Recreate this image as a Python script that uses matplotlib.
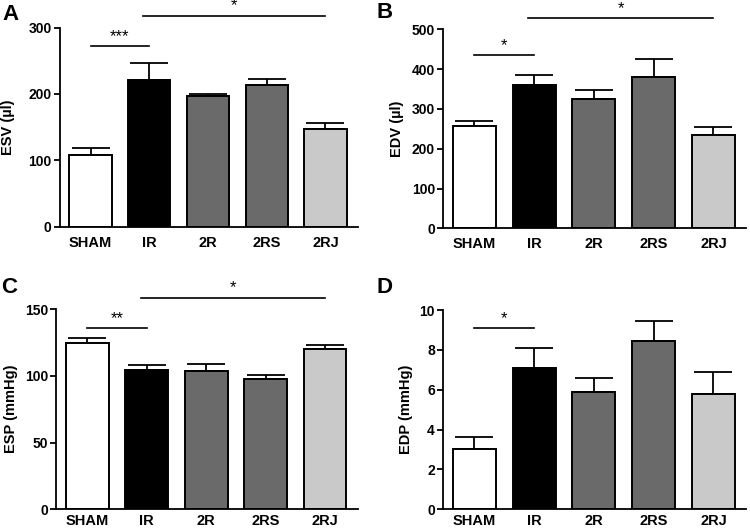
import numpy as np
import matplotlib
matplotlib.use('Agg')
import matplotlib.pyplot as plt

plt.rcParams['font.family'] = ['Liberation Sans', 'DejaVu Sans']
plt.rcParams['font.weight'] = 'bold'

''' --------- Data --------- '''
groups = ['SHAM', 'IR', '2R', '2RS', '2RJ']
esv_mean = [108, 221, 197, 214, 147]
esv_sem = [11, 25, 3.5, 9, 9]
edv_mean = [257, 361, 326, 379, 235]
edv_sem = [13, 24, 21, 46, 20]
esp_mean = [124.3, 104.3, 103.5, 97.5, 119.8]
esp_sem = [3.7, 3.7, 5.3, 3.0, 3.2]
edp_mean = [3.0, 7.1, 5.9, 8.45, 5.77]
edp_sem = [0.64, 1.0, 0.7, 1.0, 1.13]

bar_colors = ['white', 'black', '#6a6a6a', '#6a6a6a', '#c9c9c9']

''' --------- Panels --------- '''
panels = [
    # letter, mean, sem, ylabel, ymax, step, axes rect, brackets,
    # ylabel x (axes frac), xtick pad, letter position (px)
    ('A', esv_mean, esv_sem, 'ESV (µl)', 300, 100,
     [0.080, 0.573, 0.397, 0.375],
     [(0, 1, 272, '***'), (0.9, 4, 318, '*')], -0.1745, 6.5, (2.5, 20)),
    ('B', edv_mean, edv_sem, 'EDV (µl)', 500, 100,
     [0.591, 0.570, 0.404, 0.375],
     [(0, 1, 435, '*'), (0.9, 4, 528, '*')], -0.1536, 6.5, (376.5, 17.5)),
    ('C', esp_mean, esp_sem, 'ESP (mmHg)', 150, 50,
     [0.075, 0.041, 0.402, 0.377],
     [(0, 1, 136, '**'), (0.9, 4, 158.5, '*')], -0.1507, 3.5, (1, 293)),
    ('D', edp_mean, edp_sem, 'EDP (mmHg)', 10, 2,
     [0.591, 0.041, 0.404, 0.375],
     [(0, 1, 9.08, '*')], -0.123, 3.5, (376.5, 293)),
]

W, H = 750, 531
fig = plt.figure(figsize=(W / 100, H / 100), dpi=100)
x = np.arange(len(groups))

for letter, mean, sem, ylabel, ymax, step, rect, brackets, lx, xpad, lpos in panels:
    ax = fig.add_axes(rect)
    ax.errorbar(x, mean, yerr=[np.zeros(len(sem)), sem], fmt='none',
                ecolor='black', elinewidth=1.3, capsize=14, capthick=1.3, zorder=1)
    ax.bar(x, mean, width=0.72, color=bar_colors, edgecolor='black',
           linewidth=1.4, zorder=2)
    ax.set_xlim(-0.52, 4.55)
    ax.set_ylim(0, ymax)
    ax.set_yticks(np.arange(0, ymax + step / 2, step))
    ax.set_xticks(x)
    ax.set_xticklabels(groups, fontsize=10.5, fontweight='bold')
    ax.tick_params(axis='x', length=0, pad=xpad)
    ax.tick_params(axis='y', length=4.5, width=1.3, pad=1.5, labelsize=10)
    for s in ['top', 'right']:
        ax.spines[s].set_visible(False)
    for s in ['left', 'bottom']:
        ax.spines[s].set_linewidth(1.3)
    ax.set_ylabel(ylabel, fontsize=10.5, fontweight='bold', va='center')
    ax.yaxis.set_label_coords(lx, 0.5)

    # significance brackets
    for x0, x1, y, stars in brackets:
        ax.plot([x0, x1], [y, y], color='black', lw=1.2, clip_on=False)
        ax.annotate(stars, xy=((x0 + x1) / 2, y), xytext=(0, 1.5),
                    textcoords='offset points', ha='center', va='bottom',
                    fontsize=12, fontweight='normal', annotation_clip=False)

    fig.text(lpos[0] / W, 1 - lpos[1] / H, letter, fontsize=16,
             fontweight='bold', va='baseline', ha='left')

fig.savefig('out.png', dpi=100)
